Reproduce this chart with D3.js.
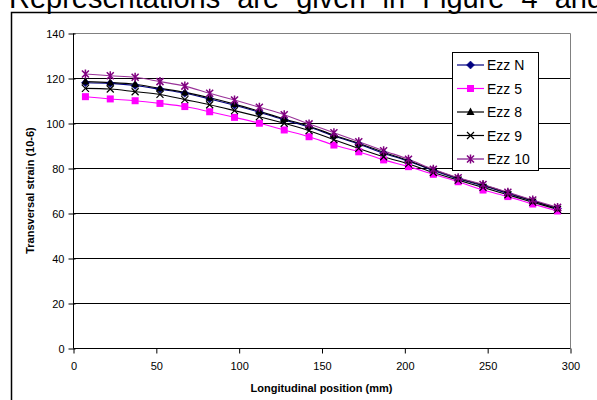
<!DOCTYPE html>
<html><head><meta charset="utf-8">
<script src="https://cdn.jsdelivr.net/npm/d3@7/dist/d3.min.js"></script>
<style>
html,body{margin:0;padding:0;background:#fff;}
svg{display:block;font-family:"Liberation Sans",Arial,sans-serif;}
</style></head>
<body><svg id="c" width="597" height="400"></svg>
<script>
const positions = [7.5,22.5,37.5,52.5,67.5,82.5,97.5,112.5,127.5,142.5,157.5,172.5,187.5,202.5,217.5,232.5,247.5,262.5,277.5,292.5];
const ezzN  = [117.9,117.6,116.7,115.0,113.2,110.7,107.9,104.8,101.4,98.2,94.2,90.6,86.6,83.0,78.9,75.2,72.1,68.7,65.3,62.0];
const ezz5  = [111.7,110.7,109.9,108.7,107.3,105.0,102.5,99.9,96.9,93.9,90.2,87.2,83.6,80.6,77.2,73.9,70.2,67.3,64.0,60.9];
const ezz8  = [118.4,118.0,117.2,115.4,113.6,111.2,108.4,105.2,101.8,98.6,94.6,91.0,87.0,83.3,79.2,75.5,72.4,69.0,65.5,62.2];
const ezz9  = [115.4,115.1,113.9,112.7,110.4,108.1,105.5,102.8,99.9,96.6,92.6,88.7,85.0,81.8,78.0,74.6,71.4,68.1,64.8,61.6];
const ezz10 = [121.8,121.0,120.3,118.4,116.4,113.2,110.2,107.0,103.7,99.6,95.7,91.7,87.7,83.9,79.4,75.7,72.7,69.2,65.8,62.5];
const seriesNames = ["Ezz N","Ezz 5","Ezz 8","Ezz 9","Ezz 10"];
const xTicks = [0,50,100,150,200,250,300];
const yTicks = [0,20,40,60,80,100,120,140];
const titleText = "Representations are given in Figure 4 and";
const xTitle = "Longitudinal position (mm)";
const yTitle = "Transversal strain (10-6)";

const series = [
  {name: seriesNames[0], values: ezzN,  line: "#000080", fill: "#000080", marker: "diamond"},
  {name: seriesNames[1], values: ezz5,  line: "#ff00ff", fill: "#ff00ff", marker: "square"},
  {name: seriesNames[2], values: ezz8,  line: "#000000", fill: "#000000", marker: "triangle"},
  {name: seriesNames[3], values: ezz9,  line: "#000000", fill: "#000000", marker: "x"},
  {name: seriesNames[4], values: ezz10, line: "#993399", fill: "#800080", marker: "star"}
];

const svg = d3.select("#c");
const L = 73, R = 570, T = 33, B = 348;
const x = d3.scaleLinear().domain([0,300]).range([L,R]);
const y = d3.scaleLinear().domain([0,140]).range([B,T]);

// page text cut off at top (as in the reference)
svg.append("text").attr("x", 9).attr("y", 8).attr("font-size", 29)
  .attr("fill", "#000").attr("word-spacing", 9).text(titleText);

// outer chart frame
svg.append("rect").attr("x", 11.5).attr("y", 12.5).attr("width", 700).attr("height", 500)
  .attr("fill", "none").attr("stroke", "#000").attr("stroke-width", 1.5);

// gridlines
svg.append("g").selectAll("line").data(yTicks.filter(d => d > 0 && d < 140)).join("line")
  .attr("x1", L).attr("x2", R)
  .attr("y1", d => Math.round(y(d)) + 0.5).attr("y2", d => Math.round(y(d)) + 0.5)
  .attr("stroke", "#000").attr("stroke-width", 1);

// plot border top/right gray
svg.append("path")
  .attr("d", `M${L},${T+0.5}H${R+0.5}V${B}`)
  .attr("fill", "none").attr("stroke", "#808080").attr("stroke-width", 1);

// axes
const yAxis = d3.axisLeft(y).tickValues(yTicks).tickSize(5).tickPadding(4).tickFormat(d3.format("d"));
const gy = svg.append("g").attr("transform", `translate(${L+0.5},0.5)`).call(yAxis);
const xAxis = d3.axisBottom(x).tickValues(xTicks).tickSize(5).tickPadding(9).tickFormat(d3.format("d"));
const gx = svg.append("g").attr("transform", `translate(0.5,${B+0.5})`).call(xAxis);
[gx, gy].forEach(g => {
  g.select(".domain").attr("stroke", "#000");
  g.selectAll(".tick line").attr("stroke", "#000");
  g.selectAll("text").attr("font-size", 11).attr("font-family", "Liberation Sans, Arial, sans-serif").attr("fill", "#000");
});
gy.selectAll(".tick line").attr("x1", 2);
gy.select(".domain").attr("d", `M0,${T}V${B}`);
gx.select(".domain").attr("d", `M${L},0H${R}`);

// axis titles
svg.append("text").attr("x", (L+R)/2).attr("y", 392).attr("text-anchor", "middle")
  .attr("font-size", 11).attr("font-weight", "bold").text(xTitle);
svg.append("text").attr("transform", `translate(34,${(T+B)/2}) rotate(-90)`)
  .attr("text-anchor", "middle").attr("font-size", 11).attr("font-weight", "bold").text(yTitle);

function drawMarker(g, type, color) {
  if (type === "diamond") {
    g.append("path").attr("d", "M0,-4L4,0L0,4L-4,0Z").attr("fill", color).attr("stroke", color).attr("stroke-width", 0.5);
  } else if (type === "square") {
    g.append("rect").attr("x", -3.5).attr("y", -3.5).attr("width", 7).attr("height", 7).attr("fill", color);
  } else if (type === "triangle") {
    g.append("path").attr("d", "M0,-4.5L4,3L-4,3Z").attr("fill", color);
  } else if (type === "x") {
    g.append("path").attr("d", "M-3.5,-3.5L3.5,3.5M-3.5,3.5L3.5,-3.5").attr("stroke", color).attr("stroke-width", 1.2).attr("fill", "none");
  } else if (type === "star") {
    g.append("path").attr("d", "M-3.5,-3.5L3.5,3.5M-3.5,3.5L3.5,-3.5M0,-4.5V4.5").attr("stroke", color).attr("stroke-width", 1.5).attr("fill", "none");
  }
}

const line = d3.line().x((d,i) => x(positions[i])).y(d => y(d)).curve(d3.curveCatmullRom.alpha(0.5));
const plot = svg.append("g");
series.forEach(s => {
  plot.append("path").datum(s.values).attr("d", line).attr("fill", "none")
    .attr("stroke", s.line).attr("stroke-width", 1.1);
});
series.forEach(s => {
  s.values.forEach((v,i) => {
    const g = plot.append("g").attr("transform", `translate(${x(positions[i])},${y(v)})`);
    drawMarker(g, s.marker, s.fill);
  });
});

// legend
const lg = svg.append("g");
lg.append("rect").attr("x", 452.5).attr("y", 52.5).attr("width", 86).attr("height", 118)
  .attr("fill", "#fff").attr("stroke", "#000").attr("stroke-width", 1);
series.forEach((s, i) => {
  const cy = 65 + i * 23.5;
  lg.append("line").attr("x1", 457).attr("x2", 484).attr("y1", cy).attr("y2", cy)
    .attr("stroke", i === 4 ? "#b070b8" : s.line).attr("stroke-width", i === 4 ? 2 : 1.2);
  const g = lg.append("g").attr("transform", `translate(470.5,${cy})`);
  drawMarker(g, s.marker, s.fill);
  lg.append("text").attr("x", 487).attr("y", cy + 5).attr("font-size", 14).attr("fill", "#000").text(s.name);
});
</script></body></html>
